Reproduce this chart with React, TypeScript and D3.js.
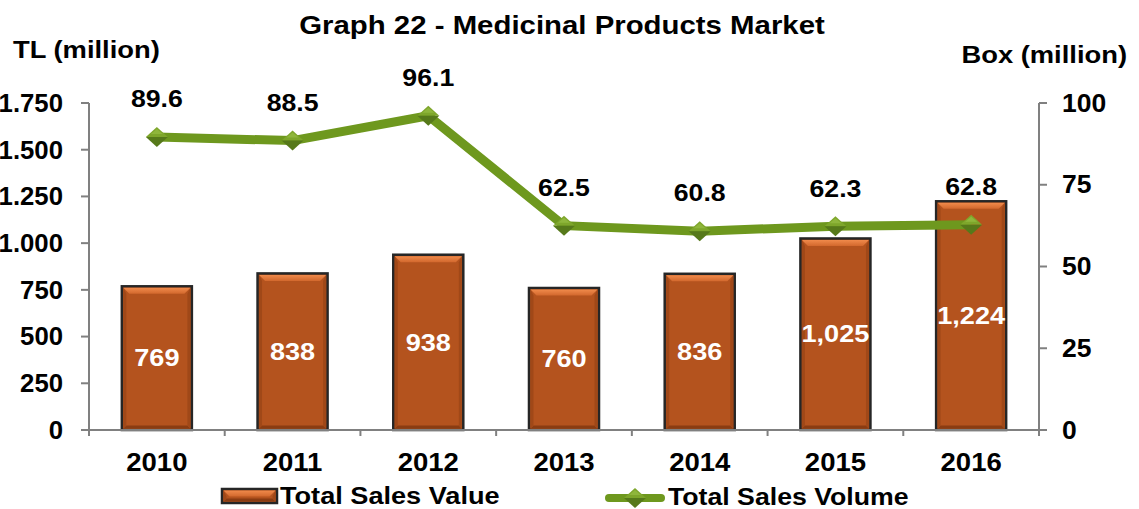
// Graph 22 - Medicinal Products Market: bars (TL) + line (boxes)
import React from 'react'
import * as d3 from 'd3'

const years = ['2010', '2011', '2012', '2013', '2014', '2015', '2016']
const salesValue = [769, 838, 938, 760, 836, 1025, 1224]
const salesVolume = [89.6, 88.5, 96.1, 62.5, 60.8, 62.3, 62.8]
const leftTicks = [0, 250, 500, 750, 1000, 1250, 1500, 1750]
const rightTicks = [0, 25, 50, 75, 100]

const W = 1139
const H = 509
const FONT = '"Liberation Sans", Arial, Helvetica, sans-serif'

const fmtLeft = (v: number) => d3.format(',')(v).replace(/,/g, '.')
const fmtBar = d3.format(',')
const fmtVol = d3.format('.1f')

// text a bit wider than the font, like the stretched original
function T({ x, y, size, sx = 1.12, anchor = 'start', fill = '#000', children }:
  { x: number, y: number, size: number, sx?: number, anchor?: string, fill?: string, children: any }) {
  return (
    <text transform={`translate(${x},${y}) scale(${sx},1)`} textAnchor={anchor}
      dominantBaseline="central" fontSize={size} fill={fill}>{children}</text>
  )
}

export default function App() {
  const margin = { left: 89, right: 100, top: 103, bottom: 79 }
  const x = d3.scaleBand<string>()
    .domain(years)
    .range([margin.left, W - margin.right])
    .paddingInner(0.484)
    .paddingOuter(0.242)
  const band = d3.scaleBand<string>().domain(years).range([margin.left, W - margin.right])
  const yL = d3.scaleLinear().domain([0, 1750]).range([H - margin.bottom, margin.top])
  const yR = d3.scaleLinear().domain([0, 100]).range([H - margin.bottom, margin.top])
  const y0 = yL(0)
  const xRight = W - margin.right
  const bw = x.bandwidth()
  const cx = (i: number) => x(years[i])! + bw / 2

  const line = d3.line<number>()
    .x((_, i) => cx(i))
    .y(d => yR(d))

  const diamond = (mx: number, my: number, key: string) => (
    <g key={key}>
      <path d={`M${mx - 11},${my} L${mx},${my - 10} L${mx + 11},${my} Z`} fill="#7EA62B" />
      <path d={`M${mx - 11},${my} L${mx},${my + 10} L${mx + 11},${my} Z`} fill="#56791A" />
      <path d={`M${mx - 6},${my - 3} L${mx},${my - 8} L${mx + 6},${my - 3} Z`} fill="#9BC247" opacity={0.6} />
    </g>
  )

  const bar = (bx: number, by: number, bwid: number, bh: number, key: string) => {
    const b = 3
    return (
      <g key={key}>
        <rect x={bx} y={by} width={bwid} height={bh} fill="#B4531E" stroke="#262626" strokeWidth={2.5} />
        <path d={`M${bx + 1.5},${by + 1.5} L${bx + bwid - 1.5},${by + 1.5} L${bx + bwid - 1.5 - b * 2},${by + 1.5 + b * 2} L${bx + 1.5 + b * 2},${by + 1.5 + b * 2} Z`} fill="url(#bevelTop)" />
        <path d={`M${bx + 1.5},${by + bh - 1.5} L${bx + bwid - 1.5},${by + bh - 1.5} L${bx + bwid - 1.5 - b},${by + bh - 1.5 - b} L${bx + 1.5 + b},${by + bh - 1.5 - b} Z`} fill="#8A3C12" />
        <path d={`M${bx + 1.5},${by + 1.5} L${bx + 1.5 + b},${by + 1.5 + b * 2} L${bx + 1.5 + b},${by + bh - 1.5 - b} L${bx + 1.5},${by + bh - 1.5} Z`} fill="#A04818" />
        <path d={`M${bx + bwid - 1.5},${by + 1.5} L${bx + bwid - 1.5 - b},${by + 1.5 + b * 2} L${bx + bwid - 1.5 - b},${by + bh - 1.5 - b} L${bx + bwid - 1.5},${by + bh - 1.5} Z`} fill="#A04818" />
      </g>
    )
  }

  return (
    <svg width={W} height={H} style={{ position: 'absolute', left: 0, top: 0, background: '#fff' }} fontFamily={FONT} fontWeight="bold">
      <defs>
        <linearGradient id="bevelTop" x1="0" y1="0" x2="0" y2="1">
          <stop offset="0" stopColor="#F08A4B" />
          <stop offset="1" stopColor="#D2682D" />
        </linearGradient>
      </defs>

      <T x={562} y={25} size={26} sx={1.13} anchor="middle">Graph 22 - Medicinal Products Market</T>
      <T x={13} y={50} size={24} sx={1.14}>TL (million)</T>
      <T x={1127} y={55} size={24} sx={1.14} anchor="end">Box (million)</T>

      {/* bars */}
      {salesValue.map((v, i) => bar(x(years[i])!, yL(v), bw, y0 - yL(v), years[i]))}

      {/* axes */}
      <g stroke="#808080" strokeWidth={2} fill="none">
        <line x1={margin.left} y1={yL(1750)} x2={margin.left} y2={y0 + 6} />
        {leftTicks.map(t => <line key={`lt${t}`} x1={margin.left - 8} y1={yL(t)} x2={margin.left} y2={yL(t)} />)}
        <line x1={xRight} y1={yR(100)} x2={xRight} y2={y0 + 6} />
        {rightTicks.map(t => <line key={`rt${t}`} x1={xRight} y1={yR(t)} x2={xRight + 8} y2={yR(t)} />)}
        <line x1={margin.left} y1={y0} x2={xRight} y2={y0} />
        {years.slice(1).map(yr => <line key={`xt${yr}`} x1={band(yr)!} y1={y0} x2={band(yr)!} y2={y0 + 6} />)}
      </g>

      {leftTicks.map(t => (
        <T key={`ll${t}`} x={63} y={yL(t)} size={25} sx={1.03} anchor="end">{fmtLeft(t)}</T>
      ))}
      {rightTicks.map(t => (
        <T key={`rl${t}`} x={1062} y={yR(t)} size={25} sx={1.06}>{t}</T>
      ))}
      {years.map((yr, i) => (
        <T key={`xl${yr}`} x={cx(i)} y={462} size={25} sx={1.1} anchor="middle">{yr}</T>
      ))}

      {/* bar labels */}
      {salesValue.map((v, i) => (
        <T key={`bl${i}`} x={cx(i)} y={(yL(v) + y0) / 2} size={23} sx={1.18} anchor="middle" fill="#fff">{fmtBar(v)}</T>
      ))}

      {/* line */}
      <path d={line(salesVolume)!} fill="none" stroke="#6E981E" strokeWidth={9} strokeLinejoin="round" />
      {salesVolume.map((v, i) => diamond(cx(i), yR(v), `m${i}`))}
      {salesVolume.map((v, i) => (
        <T key={`vl${i}`} x={cx(i)} y={yR(v) - 38} size={23} sx={1.16} anchor="middle">{fmtVol(v)}</T>
      ))}

      {/* legend */}
      {bar(222, 489, 55, 14, 'legbar')}
      <T x={280} y={496} size={23} sx={1.18}>Total Sales Value</T>
      <line x1={609} y1={498} x2={661} y2={498} stroke="#6E981E" strokeWidth={8} strokeLinecap="round" />
      {diamond(635, 498, 'legm')}
      <T x={668} y={497} size={23} sx={1.16}>Total Sales Volume</T>
    </svg>
  )
}
